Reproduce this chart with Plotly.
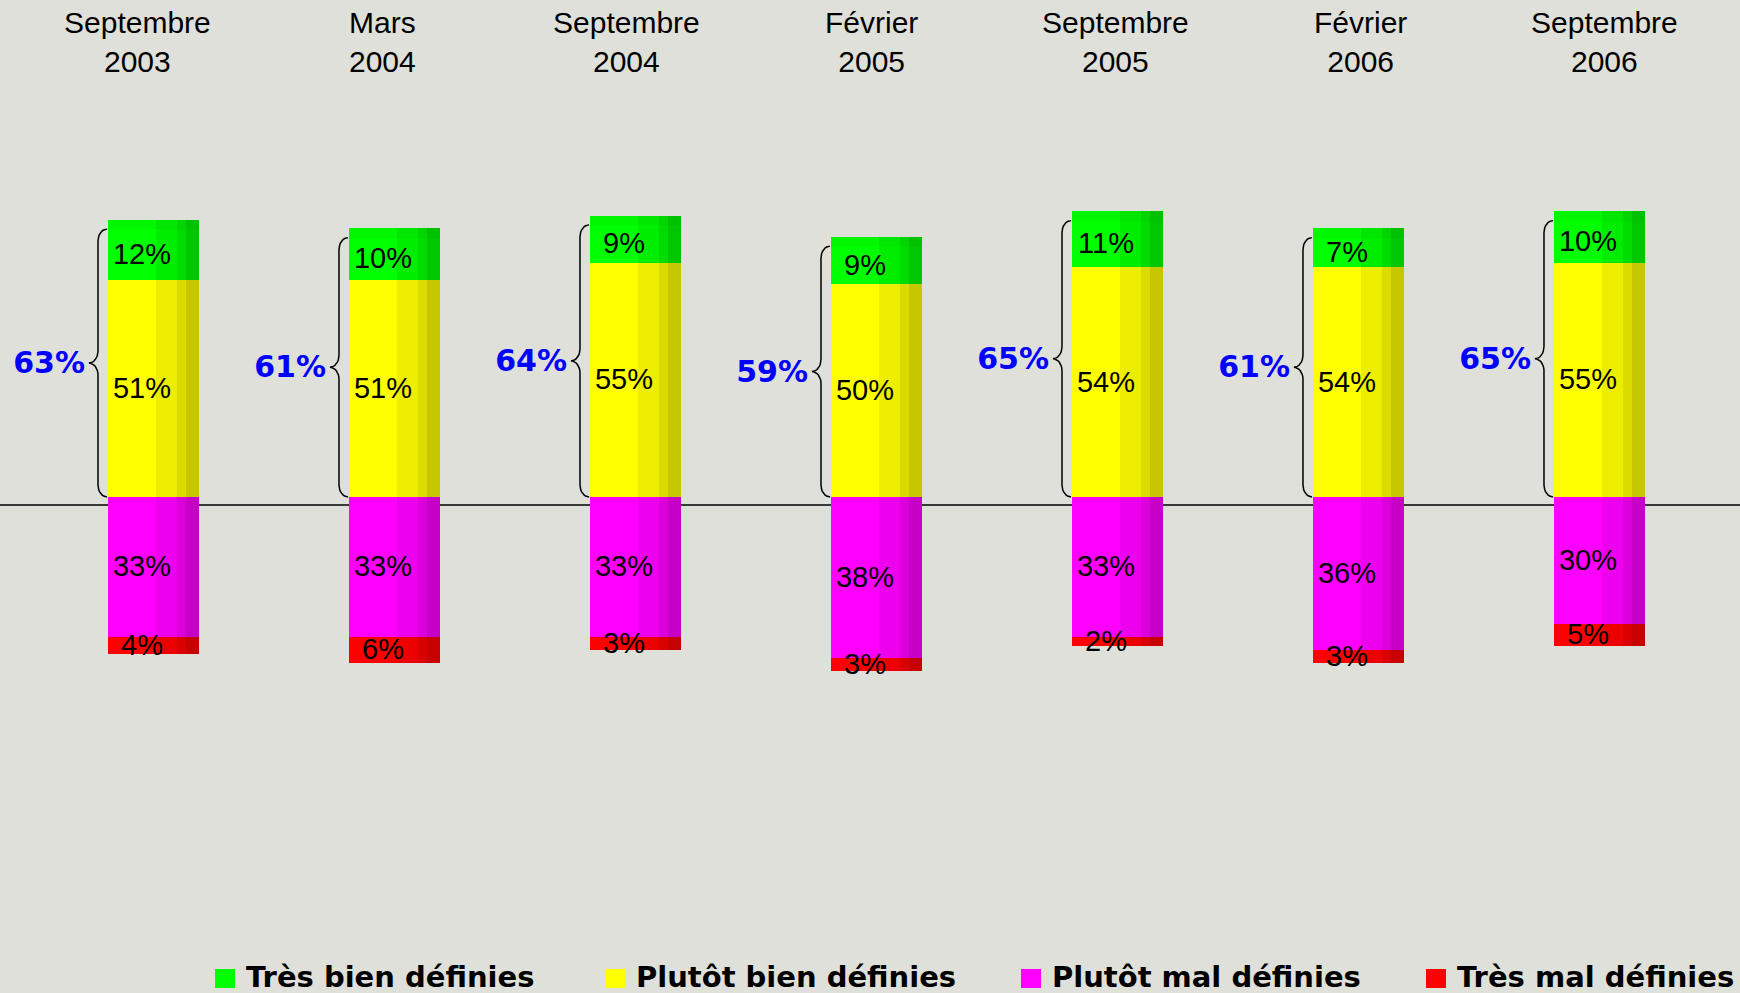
import math
import plotly.graph_objects as go

# ---- data ----
periods = ["Septembre<br>2003", "Mars<br>2004", "Septembre<br>2004", "Février<br>2005",
           "Septembre<br>2005", "Février<br>2006", "Septembre<br>2006"]
tres_bien = [12, 10, 9, 9, 11, 7, 10]
plutot_bien = [51, 51, 55, 50, 54, 54, 55]
plutot_mal = [33, 33, 33, 38, 33, 36, 30]
tres_mal = [4, 6, 3, 3, 2, 3, 5]
series_names = ["Très bien définies", "Plutôt bien définies", "Plutôt mal définies", "Très mal définies"]
series_colors = [(0, 255, 0), (255, 255, 0), (255, 0, 255), (255, 0, 0)]

BG = "#dfe0da"
W, H = 1740, 993
X_RANGE = [-0.639, 6.581]
X2_RANGE = [-0.563, -0.563 + W / 244.5]
Y_RANGE = [-116.7, 116.9]
PX = W / (X_RANGE[1] - X_RANGE[0])   # pixels per x unit
PY = H / (Y_RANGE[1] - Y_RANGE[0])   # pixels per y unit
CAP = 2.2  # visual height of the cylinder top (3D effect)

n = len(periods)
xs = list(range(n))
totals_pos = [a + b for a, b in zip(tres_bien, plutot_bien)]

# segments: (values, base)
segments = [
    (tres_bien, plutot_bien),
    (plutot_bien, [0] * n),
    ([-v for v in plutot_mal], [0] * n),
    ([-v for v in tres_mal], [-v for v in plutot_mal]),
]

def shade(rgb, f):
    return "rgb(%d,%d,%d)" % tuple(int(round(c * f)) for c in rgb)

# pseudo-3D layers: (width px, shade factor)
layers = [(91, 0.78), (78, 0.86), (69, 0.93), (48, 1.0)]
left_off = -46 / PX

fig = go.Figure()
for li, (wpx, f) in enumerate(layers):
    # top cap of the cylinder
    fig.add_trace(go.Bar(
        x=xs, y=[CAP] * n, base=totals_pos,
        width=wpx / PX, offset=left_off,
        marker=dict(color=shade(series_colors[0], f * 0.97), line=dict(width=0)),
        showlegend=False, hoverinfo="skip",
    ))
    for si, (vals, base) in enumerate(segments):
        fig.add_trace(go.Bar(
            x=xs, y=vals, base=base,
            width=wpx / PX, offset=left_off,
            marker=dict(color=shade(series_colors[si], f), line=dict(width=0)),
            name=series_names[si],
            showlegend=False,
            hoverinfo="skip",
        ))

# segment value labels
lab_x = [x + (-12 / PX) for x in xs]
for si, (vals, base) in enumerate(segments):
    mids = [b + v / 2 - 0.5 for v, b in zip(vals, base)]
    fig.add_trace(go.Scatter(
        x=lab_x, y=mids, mode="text",
        text=["%d%%" % abs(v) for v in vals],
        textposition="middle center",
        textfont=dict(family="Liberation Sans, Arial, sans-serif", size=29, color="black"),
        showlegend=False, hoverinfo="skip",
    ))

# braces
bx, by = [], []
r = 12 / PY
hx = 9 / PX
tx = 9 / PX
for i, tot in zip(xs, totals_pos):
    xb = i + (-56 / PX)
    top, mid, bot = tot, tot / 2, 0
    pts = []
    for k in range(9):
        t = math.radians(90 + 90 * k / 8)
        pts.append((xb + hx + hx * math.cos(t), top - r + r * math.sin(t)))
    for k in range(9):
        t = math.radians(-90 * k / 8)
        pts.append((xb - tx + tx * math.cos(t), mid + r + r * math.sin(t)))
    for k in range(9):
        t = math.radians(90 - 90 * k / 8)
        pts.append((xb - tx + tx * math.cos(t), mid - r + r * math.sin(t)))
    for k in range(9):
        t = math.radians(180 + 90 * k / 8)
        pts.append((xb + hx + hx * math.cos(t), bot + r + r * math.sin(t)))
    bx += [p[0] for p in pts] + [None]
    by += [p[1] for p in pts] + [None]
fig.add_trace(go.Scatter(x=bx, y=by, mode="lines", line=dict(color="black", width=1.5),
                         showlegend=False, hoverinfo="skip"))

# totals
fig.add_trace(go.Scatter(
    x=[i + (-69 / PX) for i in xs], y=[t / 2 - 0.6 for t in totals_pos], mode="text",
    text=["%d%%" % t for t in totals_pos], textposition="middle left",
    textfont=dict(family="DejaVu Sans", size=30, color="#0000ff", weight="bold"),
    showlegend=False, hoverinfo="skip",
))

# period labels (header axis x2)
for i, p in zip(xs, periods):
    fig.add_annotation(x=i, xref="x2", y=1 - 42.5 / H, yref="paper",
                       text=p, showarrow=False, yanchor="middle", xanchor="center",
                       font=dict(family="Liberation Sans, Arial, sans-serif", size=30, color="black"))

# baseline
fig.add_shape(type="line", xref="paper", x0=0, x1=1, yref="y", y0=-1.9, y1=-1.9,
              line=dict(color="black", width=1.5), layer="below")

# legend (custom, allowed to run to the right edge like the original)
legend_x = [215, 605, 1021, 1426]
for lx, name, col in zip(legend_x, series_names, series_colors):
    fig.add_shape(type="rect", xref="paper", yref="paper",
                  x0=lx / W, x1=(lx + 20) / W, y0=1 - 988 / H, y1=1 - 969 / H,
                  fillcolor=shade(col, 1.0), line=dict(width=0))
    fig.add_annotation(x=(lx + 29) / W, xref="paper", y=1 - 977 / H, yref="paper",
                       text=name, showarrow=False, xanchor="left", yanchor="middle",
                       font=dict(family="DejaVu Sans", size=29, color="black", weight="bold"))

fig.update_layout(
    width=W, height=H,
    margin=dict(l=0, r=0, t=0, b=0),
    paper_bgcolor=BG, plot_bgcolor=BG,
    barmode="overlay", bargap=0,
    xaxis=dict(range=X_RANGE, visible=False, fixedrange=True),
    xaxis2=dict(range=X2_RANGE, visible=False, overlaying="x", fixedrange=True),
    yaxis=dict(range=Y_RANGE, visible=False, fixedrange=True),
    showlegend=False,
)

fig.write_html("out.html", config={"displayModeBar": False},
               post_script="document.body.style.margin='0';document.body.style.overflow='hidden';")
